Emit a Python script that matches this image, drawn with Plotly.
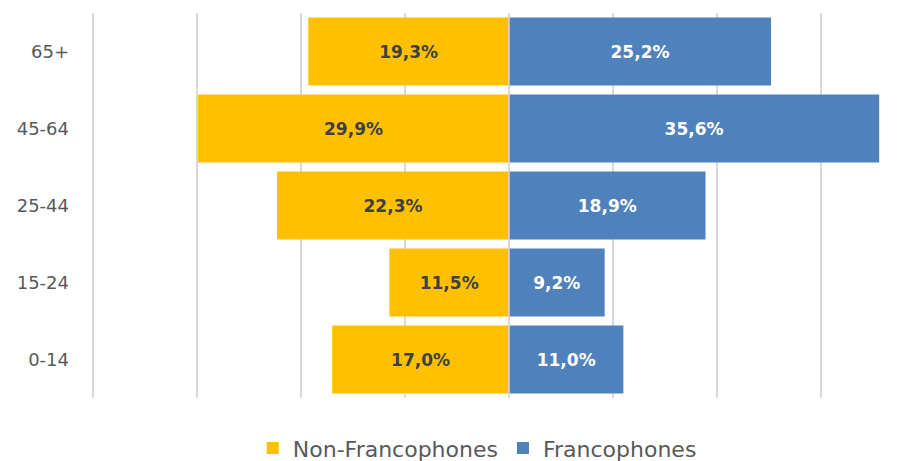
import plotly.graph_objects as go

age_groups = ["0-14", "15-24", "25-44", "45-64", "65+"]
non_franco = [17.0, 11.5, 22.3, 29.9, 19.3]
franco = [11.0, 9.2, 18.9, 35.6, 25.2]
grid_ticks = [-40, -30, -20, -10, 0, 10, 20, 30]


def fmt(v):
    return f"{v:.1f}".replace(".", ",") + "%"


FONT = "Century Gothic, DejaVu Sans, sans-serif"

fig = go.Figure()
fig.add_trace(go.Bar(
    y=age_groups, x=[-v for v in non_franco], orientation="h",
    name="Non-Francophones", marker=dict(color="#FFC000", line=dict(width=0)),
    text=[fmt(v) for v in non_franco], textposition="inside",
    insidetextanchor="middle",
    textfont=dict(family=FONT, size=17, color="#404040", weight="bold"),
))
fig.add_trace(go.Bar(
    y=age_groups, x=franco, orientation="h",
    name="Francophones", marker=dict(color="#4F81BD", line=dict(width=0)),
    text=[fmt(v) for v in franco], textposition="inside",
    insidetextanchor="middle",
    textfont=dict(family=FONT, size=17, color="#FFFFFF", weight="bold"),
))

fig.add_shape(type="line", xref="x", yref="paper", x0=0, x1=0, y0=0, y1=1,
              line=dict(color="#D9D9D9", width=1.5), layer="above")

fig.update_layout(
    width=913, height=461,
    margin=dict(l=82, r=0, t=5, b=71, autoexpand=False),
    barmode="relative", bargap=0.12,
    plot_bgcolor="white", paper_bgcolor="white",
    font=dict(family=FONT, color="#595959"),
    showlegend=True,
    legend=dict(orientation="h", xref="container", yref="container",
                x=0.514, xanchor="center", y=0.045, yanchor="middle",
                font=dict(size=22, color="#595959"), traceorder="normal"),
    xaxis=dict(range=[-40.29, 39.62], tickvals=grid_ticks, showticklabels=False,
               showgrid=True, gridcolor="#D9D9D9", gridwidth=1.5,
               zeroline=False, showline=False, fixedrange=True, automargin=False),
    yaxis=dict(tickfont=dict(size=18, color="#595959"), ticklabelstandoff=20,
               showgrid=False, zeroline=False, showline=False, automargin=False,
               categoryorder="array", categoryarray=age_groups),
)

fig.write_html("out.html")
